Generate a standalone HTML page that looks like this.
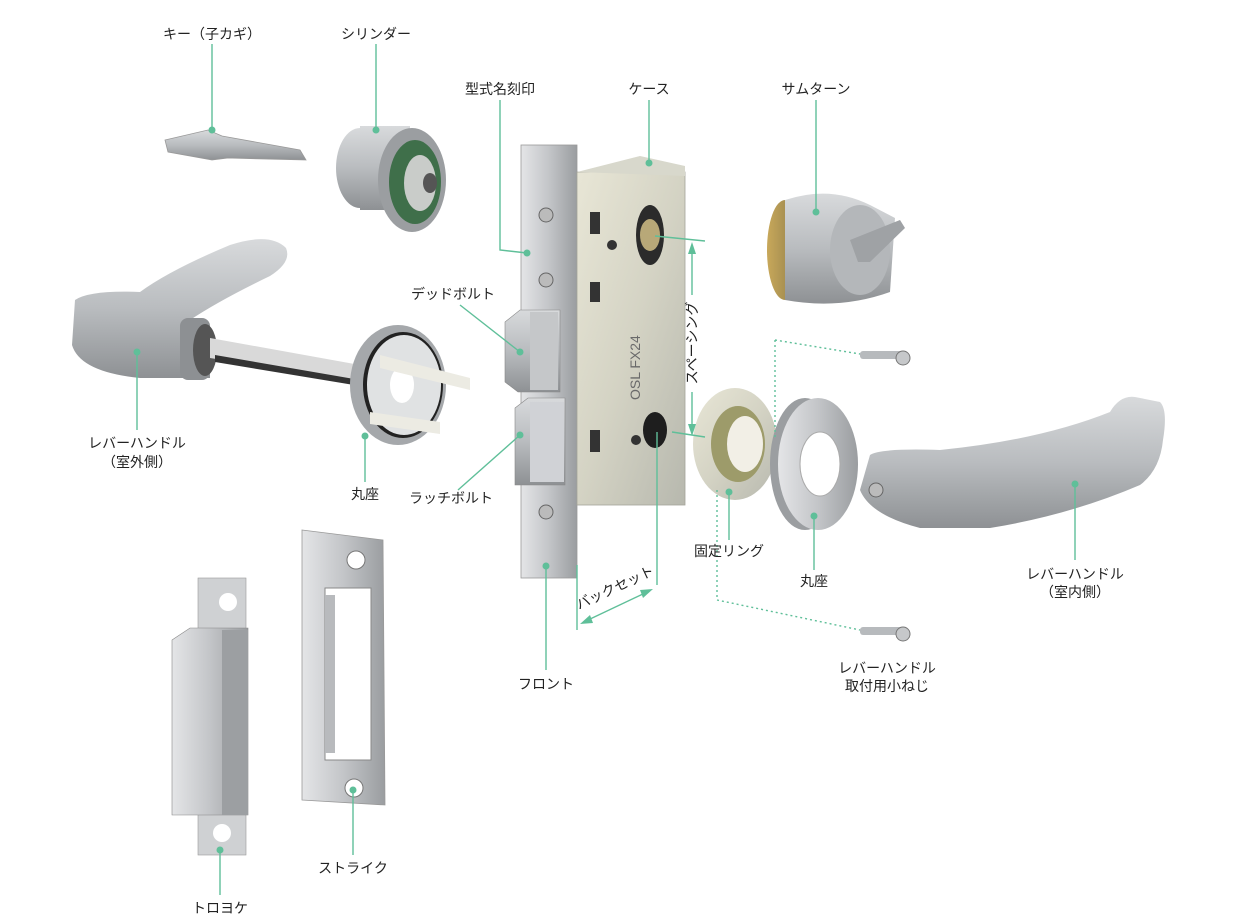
<!DOCTYPE html>
<html><head><meta charset="utf-8"><style>
html,body{margin:0;padding:0;background:#fff}
svg{display:block}
text{font-family:"Liberation Sans","Noto Sans CJK JP",sans-serif;font-size:14px;fill:#222}
</style></head><body>
<svg width="1241" height="917" viewBox="0 0 1241 917" xmlns="http://www.w3.org/2000/svg">
<defs>
<linearGradient id="mt" x1="0" y1="0" x2="0" y2="1"><stop offset="0" stop-color="#d8dadc"/><stop offset="0.5" stop-color="#b9bcbf"/><stop offset="1" stop-color="#8e9194"/></linearGradient>
<linearGradient id="mh" x1="0" y1="0" x2="1" y2="0"><stop offset="0" stop-color="#e4e5e7"/><stop offset="0.5" stop-color="#c3c5c8"/><stop offset="1" stop-color="#9a9da0"/></linearGradient>
<linearGradient id="zn" x1="0" y1="0" x2="1" y2="1"><stop offset="0" stop-color="#e8e6d6"/><stop offset="0.5" stop-color="#d4d3c4"/><stop offset="1" stop-color="#b7b8ae"/></linearGradient>
<linearGradient id="br" x1="0" y1="0" x2="1" y2="0"><stop offset="0" stop-color="#c8a85a"/><stop offset="1" stop-color="#8a7a4a"/></linearGradient>
</defs>

<!-- key -->
<path d="M165 140 L208 130 L222 136 L300 150 L306 160 L228 158 L212 160 L168 152 Z" fill="url(#mt)" stroke="#999" stroke-width="0.8"/>

<!-- cylinder -->
<ellipse cx="360" cy="168" rx="24" ry="40" fill="url(#mt)"/>
<rect x="360" y="126" width="50" height="84" fill="url(#mt)"/>
<ellipse cx="412" cy="180" rx="34" ry="52" fill="#9b9ea1"/>
<ellipse cx="415" cy="182" rx="26" ry="42" fill="#3f6f4a"/>
<ellipse cx="420" cy="183" rx="16" ry="28" fill="#c9ccc9"/>
<ellipse cx="430" cy="183" rx="7" ry="10" fill="#555"/>

<!-- left lever -->
<path d="M75 300 Q90 290 140 292 Q170 270 230 245 Q270 232 286 248 Q292 262 270 276 Q220 300 190 320 L210 325 L210 378 L140 378 Q80 372 72 345 Z" fill="url(#mt)"/>
<rect x="180" y="318" width="30" height="62" rx="8" fill="#8d9093"/>
<ellipse cx="205" cy="350" rx="12" ry="26" fill="#555"/>
<!-- spindle -->
<polygon points="210,338 360,365 360,382 210,358" fill="#d9d9d9"/>
<polygon points="215,355 360,380 360,386 215,362" fill="#333"/>
<!-- left rose -->
<ellipse cx="398" cy="385" rx="48" ry="60" fill="#a5a8ab"/>
<ellipse cx="403" cy="385" rx="40" ry="53" fill="#222"/>
<ellipse cx="404" cy="385" rx="37" ry="50" fill="#e0e2e3"/>
<ellipse cx="402" cy="385" rx="12" ry="18" fill="#fff"/>
<polygon points="380,355 470,378 470,390 380,368" fill="#ecebe3"/>
<polygon points="370,412 440,422 440,434 370,424" fill="#ecebe3"/>

<!-- front plate -->
<rect x="521" y="145" width="56" height="433" fill="url(#mh)" stroke="#999" stroke-width="0.8"/>
<!-- case -->
<rect x="577" y="172" width="108" height="333" fill="url(#zn)" stroke="#a4a49a" stroke-width="0.8"/>
<polygon points="577,172 640,156 685,166 685,176" fill="#d8d8cc"/>
<ellipse cx="650" cy="235" rx="14" ry="30" fill="#2b2b2b"/>
<ellipse cx="650" cy="235" rx="10" ry="16" fill="#b8a878"/>
<ellipse cx="655" cy="430" rx="12" ry="18" fill="#1e1e1e"/>
<rect x="590" y="212" width="10" height="22" fill="#333"/>
<rect x="590" y="282" width="10" height="20" fill="#333"/>
<rect x="590" y="430" width="10" height="22" fill="#333"/>
<circle cx="612" cy="245" r="5" fill="#333"/>
<circle cx="636" cy="440" r="5" fill="#333"/>
<text x="640" y="400" transform="rotate(-90 640 400)" font-size="13" style="fill:#6a6a6a">OSL FX24</text>
<circle cx="546" cy="215" r="7" fill="#bbb" stroke="#666"/>
<circle cx="546" cy="280" r="7" fill="#bbb" stroke="#666"/>
<circle cx="546" cy="512" r="7" fill="#bbb" stroke="#666"/>
<!-- deadbolt -->
<polygon points="505,322 520,310 560,310 560,392 518,392 505,382" fill="url(#mt)" stroke="#888" stroke-width="0.6"/>
<rect x="530" y="312" width="28" height="78" fill="#c5c7c9"/>
<!-- latch -->
<polygon points="515,408 528,398 565,398 565,485 515,485" fill="url(#mt)" stroke="#888" stroke-width="0.6"/>
<rect x="530" y="402" width="34" height="80" fill="#d0d2d6"/>

<!-- thumbturn -->
<ellipse cx="785" cy="250" rx="18" ry="50" fill="url(#br)"/>
<path d="M785 200 Q830 185 870 205 L895 218 L890 292 Q840 310 785 300 Z" fill="url(#mt)"/>
<ellipse cx="860" cy="250" rx="30" ry="45" fill="#b4b7ba"/>
<polygon points="850,240 900,220 905,228 870,262 858,262" fill="#9fa2a5"/>

<!-- fixing ring -->
<ellipse cx="735" cy="444" rx="42" ry="56" fill="url(#zn)"/>
<ellipse cx="738" cy="444" rx="27" ry="38" fill="#9d9b6a"/>
<ellipse cx="745" cy="444" rx="18" ry="28" fill="#f2efe6"/>
<!-- right rose -->
<ellipse cx="805" cy="464" rx="35" ry="66" fill="#9b9ea1"/>
<ellipse cx="818" cy="464" rx="40" ry="66" fill="url(#mh)"/>
<ellipse cx="820" cy="464" rx="20" ry="32" fill="#fff" stroke="#aaa"/>

<!-- right lever -->
<path d="M870 455 Q880 448 940 450 Q1040 440 1110 412 Q1120 395 1135 397 L1160 402 Q1168 410 1163 440 Q1160 470 1140 485 Q1070 515 990 528 L920 528 Q870 515 860 490 Z" fill="url(#mt)"/>
<circle cx="876" cy="490" r="7" fill="#bbb" stroke="#666"/>

<!-- screws -->
<rect x="860" y="351" width="42" height="8" rx="3" fill="#b7babd"/><circle cx="903" cy="358" r="7" fill="#c6c8ca" stroke="#777"/>
<rect x="860" y="627" width="42" height="8" rx="3" fill="#b7babd"/><circle cx="903" cy="634" r="7" fill="#c6c8ca" stroke="#777"/>

<!-- trogoke -->
<rect x="198" y="578" width="48" height="277" fill="#cfd1d3" stroke="#999" stroke-width="0.6"/>
<circle cx="228" cy="602" r="9" fill="#fff"/>
<circle cx="222" cy="833" r="9" fill="#fff"/>
<polygon points="172,640 190,628 248,628 248,815 172,815" fill="url(#mh)" stroke="#888" stroke-width="0.6"/>
<rect x="222" y="630" width="26" height="185" fill="#9c9fa2"/>

<!-- strike -->
<polygon points="302,530 383,540 385,805 302,800" fill="url(#mh)" stroke="#999" stroke-width="0.8"/>
<circle cx="356" cy="560" r="9" fill="#fff" stroke="#777"/>
<circle cx="354" cy="788" r="9" fill="#fff" stroke="#777"/>
<rect x="325" y="588" width="46" height="172" fill="#fff" stroke="#888"/>
<rect x="325" y="595" width="10" height="158" fill="#b8babd"/>

<!-- connectors -->
<g stroke="#5fbf99" stroke-width="1.4" fill="none">
<path d="M212 44 V130"/>
<path d="M376 44 V130"/>
<path d="M500 100 V250 L527 253"/>
<path d="M649 100 V163"/>
<path d="M816 100 V212"/>
<path d="M460 305 L520 352"/>
<path d="M137 430 V352"/>
<path d="M365 482 V436"/>
<path d="M458 490 L520 435"/>
<path d="M729 540 V492"/>
<path d="M814 570 V516"/>
<path d="M1075 560 V484"/>
<path d="M546 670 V566"/>
<path d="M353 855 V790"/>
<path d="M220 895 V850"/>
<path d="M655 236 L705 241"/>
<path d="M672 432 L705 437"/>
<path d="M692 250 V295 M692 392 V428"/>
<path d="M577 565 V630"/>
<path d="M657 432 V585"/>
<path d="M588 620 L645 593"/>
<path d="M775 340 L860 354 M775 340 V440 M717 490 V600 L860 630" stroke-dasharray="2 3"/>
</g>
<g fill="#5fbf99">
<polygon points="692,242 688,254 696,254"/>
<polygon points="692,436 688,424 696,424"/>
<polygon points="580,624 590,615 593,623"/>
<polygon points="653,589 643,598 640,590"/>
<circle cx="212" cy="130" r="3.5"/><circle cx="376" cy="130" r="3.5"/>
<circle cx="527" cy="253" r="3.5"/><circle cx="649" cy="163" r="3.5"/>
<circle cx="816" cy="212" r="3.5"/><circle cx="520" cy="352" r="3.5"/>
<circle cx="137" cy="352" r="3.5"/><circle cx="365" cy="436" r="3.5"/>
<circle cx="520" cy="435" r="3.5"/><circle cx="729" cy="492" r="3.5"/>
<circle cx="814" cy="516" r="3.5"/><circle cx="1075" cy="484" r="3.5"/>
<circle cx="546" cy="566" r="3.5"/><circle cx="353" cy="790" r="3.5"/>
<circle cx="220" cy="850" r="3.5"/>
</g>

<!-- labels -->
<g text-anchor="middle">
<text x="212" y="39">キー（子カギ）</text>
<text x="376" y="39">シリンダー</text>
<text x="500" y="94">型式名刻印</text>
<text x="649" y="94">ケース</text>
<text x="816" y="94">サムターン</text>
<text x="453" y="299">デッドボルト</text>
<text x="137" y="448">レバーハンドル</text>
<text x="137" y="467">（室外側）</text>
<text x="365" y="499">丸座</text>
<text x="451" y="503">ラッチボルト</text>
<text x="729" y="556">固定リング</text>
<text x="814" y="586">丸座</text>
<text x="1075" y="579">レバーハンドル</text>
<text x="1075" y="597">（室内側）</text>
<text x="887" y="673">レバーハンドル</text>
<text x="887" y="691">取付用小ねじ</text>
<text x="546" y="689">フロント</text>
<text x="353" y="873">ストライク</text>
<text x="220" y="913">トロヨケ</text>
<text x="0" y="0" transform="translate(697 343) rotate(-90)">スペーシング</text>
<text x="0" y="0" transform="translate(617 592) rotate(-25)">バックセット</text>
</g>
</svg>
</body></html>
